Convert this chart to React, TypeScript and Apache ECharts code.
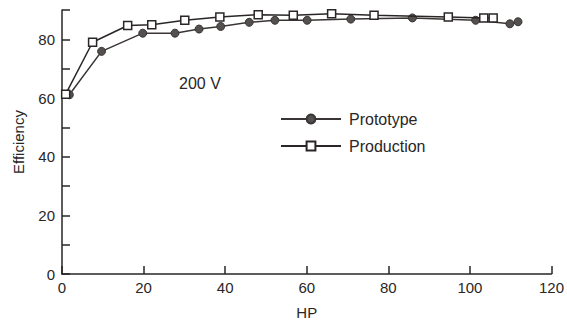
import React, { useEffect, useRef } from "react";
import * as echarts from "echarts";

const prototypeHP = [1.8, 9.7, 19.8, 27.7, 33.6, 38.9, 45.9, 52.2, 60.1, 70.8, 85.9, 101.4, 109.8, 111.8];
const prototypeEff = [61.1, 75.9, 82.1, 82.1, 83.5, 84.4, 85.8, 86.5, 86.5, 86.9, 87.3, 86.5, 85.3, 86.0];
const productionHP = [0.9, 7.5, 16.1, 22.0, 30.1, 38.7, 48.1, 56.7, 66.1, 76.5, 94.7, 103.4, 105.7];
const productionEff = [61.3, 79.0, 84.7, 85.0, 86.5, 87.6, 88.4, 88.2, 88.7, 88.2, 87.6, 87.3, 87.3];
const seriesNames = ["Prototype", "Production"];
const annotation = "200 V";

export default function App() {
  const ref = useRef<HTMLDivElement>(null);
  useEffect(() => {
    if (!ref.current) return;
    const chart = echarts.init(ref.current, null, { renderer: "svg" });
    const font = "'Liberation Sans', Arial, sans-serif";
    const ink = "#2a2626";
    chart.setOption({
      animation: false,
      backgroundColor: "#fff",
      textStyle: { fontFamily: font },
      grid: { left: 62, right: 15, top: 10, bottom: 50 },
      legend: {
        orient: "vertical",
        left: 275,
        top: 106,
        padding: 5,
        itemWidth: 60,
        itemHeight: 11,
        itemGap: 11,
        textStyle: { fontFamily: font, fontSize: 16, color: ink, lineHeight: 14, padding: [0, 0, 0, 3] },
        data: seriesNames,
      },
      xAxis: {
        type: "value",
        min: 0,
        max: 120,
        interval: 20,
        name: "HP",
        nameLocation: "middle",
        nameGap: 31,
        nameTextStyle: { fontFamily: font, fontSize: 15, color: ink },
        axisLine: { lineStyle: { color: ink, width: 1.5 } },
        axisTick: { inside: true, length: 8, lineStyle: { color: ink, width: 1.5 } },
        axisLabel: { fontFamily: font, fontSize: 15, color: ink, margin: 6 },
        splitLine: { show: false },
      },
      yAxis: {
        type: "value",
        min: 0,
        max: 90,
        interval: 10,
        name: "Efficiency",
        nameLocation: "middle",
        nameGap: 36,
        nameTextStyle: { fontFamily: font, fontSize: 15, color: ink },
        axisLine: { show: true, lineStyle: { color: ink, width: 1.5 } },
        axisTick: { show: true, inside: true, length: 8, lineStyle: { color: ink, width: 1.5 } },
        axisLabel: {
          fontFamily: font,
          fontSize: 15,
          color: ink,
          margin: 7,
          formatter: (v: number) => (v % 20 === 0 ? String(v) : ""),
        },
        splitLine: { show: false },
      },
      series: [
        {
          name: seriesNames[0],
          type: "line",
          data: prototypeHP.map((x, i) => [x, prototypeEff[i]]),
          symbol: "circle",
          symbolSize: 8,
          lineStyle: { color: "#3a3535", width: 1.5 },
          itemStyle: { color: "#555050", borderColor: "#3a3535", borderWidth: 1 },
          z: 3,
        },
        {
          name: seriesNames[1],
          type: "line",
          data: productionHP.map((x, i) => [x, productionEff[i]]),
          symbol: "rect",
          symbolSize: 8,
          lineStyle: { color: "#2a2626", width: 1.5 },
          itemStyle: { color: "#ffffff", borderColor: "#2a2626", borderWidth: 1.5 },
          z: 4,
        },
      ],
      graphic: [
        {
          type: "text",
          left: 179,
          top: 75,
          style: { text: annotation, fontFamily: font, fontSize: 16, fill: ink },
        },
      ],
    });
    return () => chart.dispose();
  }, []);
  return (
    <div
      ref={ref}
      style={{ position: "fixed", left: 0, top: 0, width: 567, height: 325 }}
    />
  );
}
